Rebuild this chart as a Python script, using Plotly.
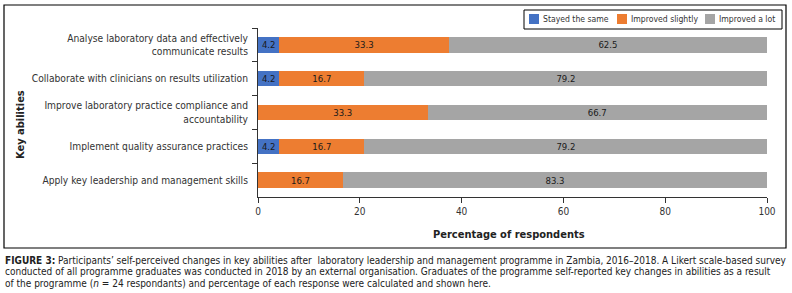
import plotly.graph_objects as go

categories = [
    "Analyse laboratory data and effectively<br>communicate results",
    "Collaborate with clinicians on results utilization",
    "Improve laboratory practice compliance and<br>accountability",
    "Implement quality assurance practices",
    "Apply key leadership and management skills",
]
stayed_same = [4.2, 4.2, None, 4.2, None]
improved_slightly = [33.3, 16.7, 33.3, 16.7, 16.7]
improved_lot = [62.5, 79.2, 66.7, 79.2, 83.3]
x_ticks = [0, 20, 40, 60, 80, 100]
series_names = ["Stayed the same", "Improved slightly", "Improved a lot"]
series_colors = ["#4472C4", "#ED7D31", "#A5A5A5"]

FONT = "DejaVu Sans Condensed, Liberation Sans Narrow, sans-serif"

fig = go.Figure()
for name, vals, col in zip(series_names, [stayed_same, improved_slightly, improved_lot], series_colors):
    fig.add_trace(go.Bar(
        y=categories, x=vals, name=name, orientation="h",
        marker=dict(color=col, line=dict(width=0)),
        text=[("%.1f" % v) if v else "" for v in vals],
        textposition="inside", insidetextanchor="middle",
        textfont=dict(family=FONT, size=9.5, color="#1a1a1a"),
        constraintext="none", showlegend=False,
    ))

W, H = 792, 293
L, R, T, B = 258, 767, 28, 197

def px(x):
    return (x - L) / (R - L)

def py(y):
    return (B - y) / (B - T)

fig.update_layout(
    width=W, height=H, barmode="stack", bargap=0.55,
    margin=dict(l=L, r=W - R, t=T, b=H - B, pad=0, autoexpand=False),
    paper_bgcolor="white", plot_bgcolor="white",
    font=dict(family=FONT, size=10, color="#333"),
    showlegend=False,
    xaxis=dict(
        range=[0, 100], tickvals=x_ticks, showgrid=False, zeroline=False,
        showline=True, linecolor="#333", linewidth=1,
        ticks="outside", ticklen=5, tickcolor="#333",
        tickfont=dict(family=FONT, size=10, color="#333"),
    ),
    yaxis=dict(
        autorange="reversed", showgrid=False, showline=True, linecolor="#333",
        linewidth=1, ticks="outside", ticklen=5, tickcolor="#333",
        tickson="boundaries", ticklabelstandoff=7,
        tickfont=dict(family=FONT, size=10.2, color="#333"),
    ),
)

# outer border
fig.add_shape(type="rect", xref="paper", yref="paper",
              x0=px(4), x1=px(786), y0=py(248), y1=py(5),
              line=dict(color="black", width=1.2), fillcolor="rgba(0,0,0,0)", layer="below")

# legend box (drawn manually to match the compact layout)
fig.add_shape(type="rect", xref="paper", yref="paper",
              x0=px(524), x1=px(782), y0=py(29), y1=py(10),
              line=dict(color="black", width=1), fillcolor="white")
leg_sq_x = [529, 617, 705]
for sx, name, col in zip(leg_sq_x, series_names, series_colors):
    fig.add_shape(type="rect", xref="paper", yref="paper",
                  x0=px(sx), x1=px(sx + 10), y0=py(24), y1=py(14),
                  line=dict(width=0), fillcolor=col)
    fig.add_annotation(text=name, xref="paper", yref="paper",
                       x=px(sx + 12), xanchor="left", y=py(19), yanchor="middle",
                       showarrow=False, font=dict(family=FONT, size=8.6, color="#333"))

fig.add_annotation(text="<b>Key abilities</b>", xref="paper", yref="paper",
                   x=px(20), xanchor="center", y=py(125), yanchor="middle",
                   textangle=-90, showarrow=False,
                   font=dict(family=FONT, size=11, color="#222"))
fig.add_annotation(text="<b>Percentage of respondents</b>", xref="paper", yref="paper",
                   x=px(509), xanchor="center", y=py(234), yanchor="middle", showarrow=False,
                   font=dict(family=FONT, size=11, color="#222"))

caption = [
    "<b>FIGURE 3:</b> Participants’ self-perceived changes in key abilities after  laboratory leadership and management programme in Zambia, 2016–2018. A Likert scale-based survey",
    "conducted of all programme graduates was conducted in 2018 by an external organisation. Graduates of the programme self-reported key changes in abilities as a result",
    "of the programme (<i>n</i> = 24 respondants) and percentage of each response were calculated and shown here.",
]
for i, line in enumerate(caption):
    fig.add_annotation(text=line, xref="paper", yref="paper",
                       x=px(3), xanchor="left", y=py(260 + 11.7 * i), yanchor="middle",
                       showarrow=False, align="left",
                       font=dict(family=FONT, size=10, color="#222"))

fig.write_html("out.html", config={"displayModeBar": False},
               post_script="document.body.style.margin='0';document.body.style.overflow='hidden';")
